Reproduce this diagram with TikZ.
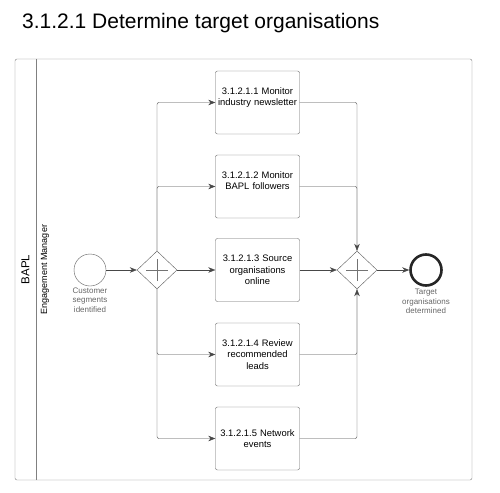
\documentclass[tikz,border=0pt]{standalone}
\usepackage{fontspec}
\setmainfont{Liberation Sans}
\usetikzlibrary{shapes.geometric,arrows.meta,positioning}

\tikzset{
  task/.style={draw=black!60, rounded corners=2pt, minimum width=84pt, minimum height=63pt,
    text width=82pt, align=center, inner sep=0pt, font=\fontsize{9.4}{11.5}\selectfont},
  gate/.style={draw=black!65, diamond, minimum width=40pt, minimum height=38pt, inner sep=0pt},
  evlabel/.style={text=black!60, align=center, inner sep=0pt, font=\fontsize{8}{9.5}\selectfont},
  line/.style={draw=black!72, rounded corners=2pt},
  flow/.style={line, -{Stealth[length=7pt,width=5.5pt]}},
}

\begin{document}
\begin{tikzpicture}[x=1pt,y=-1pt]
\useasboundingbox (0,0) rectangle (500,492);

% title
\node[anchor=base west, inner sep=0pt, font=\fontsize{21}{25}\selectfont] (title) at (22,29)
  {3.1.2.1 Determine target organisations};

% pool and lane
\draw[black!50, rounded corners=2pt] (15,59) rectangle (472,480);
\draw[black!50] (36,59) -- (36,480);
\node[rotate=90, font=\fontsize{11.5}{13}\selectfont] (pool) at (25.5,269.5) {BAPL};
\node[rotate=90, font=\fontsize{9}{11}\selectfont] (lane) at (45,269.5) {Engagement Manager};

% events and gateways
\node[draw=black!65, circle, minimum size=32pt, inner sep=0pt] (start) at (90,270) {};
\node[evlabel, below=1.5pt of start] (startlbl) {Customer\\segments\\identified};
\node[gate] (split) at (157,270) {};
\node[gate] (join) at (357,270) {};
\node[draw=black!85, line width=2.6pt, circle, minimum size=31pt, inner sep=0pt] (stop) at (426,270) {};
\node[evlabel, below=2pt of stop] (stoplbl) {Target\\organisations\\determined};
\foreach \g in {split,join}{
  \draw[black!55] ([xshift=-11pt]\g.center) -- ([xshift=11pt]\g.center);
  \draw[black!55] ([yshift=-11pt]\g.center) -- ([yshift=11pt]\g.center);
}

% tasks
\node[task] (monitornews) at (257.5,102.5) {3.1.2.1.1 Monitor\\industry newsletter\\~};
\node[task] (monitorfollow) at (257.5,186.5) {3.1.2.1.2 Monitor\\BAPL followers\\~};
\node[task] (source) at (257.5,270) {3.1.2.1.3 Source\\organisations\\online};
\node[task] (review) at (257.5,354.5) {3.1.2.1.4 Review\\recommended\\leads};
\node[task] (network) at (257.5,438.5) {3.1.2.1.5 Network\\events};

% flows
\draw[flow] (start) -- (split);
\draw[flow] (split.north) |- (monitornews);
\draw[flow] (split.north) |- (monitorfollow);
\draw[flow] (split) -- (source);
\draw[flow] (split.south) |- (review);
\draw[flow] (split.south) |- (network);
\draw[flow] (monitornews) -| (join.north);
\draw[line] (monitorfollow) -| (join.north);
\draw[flow] (source) -- (join);
\draw[flow] (review) -| (join.south);
\draw[line] (network) -| (join.south);
\draw[flow] (join) -- (stop);
\end{tikzpicture}
\end{document}
